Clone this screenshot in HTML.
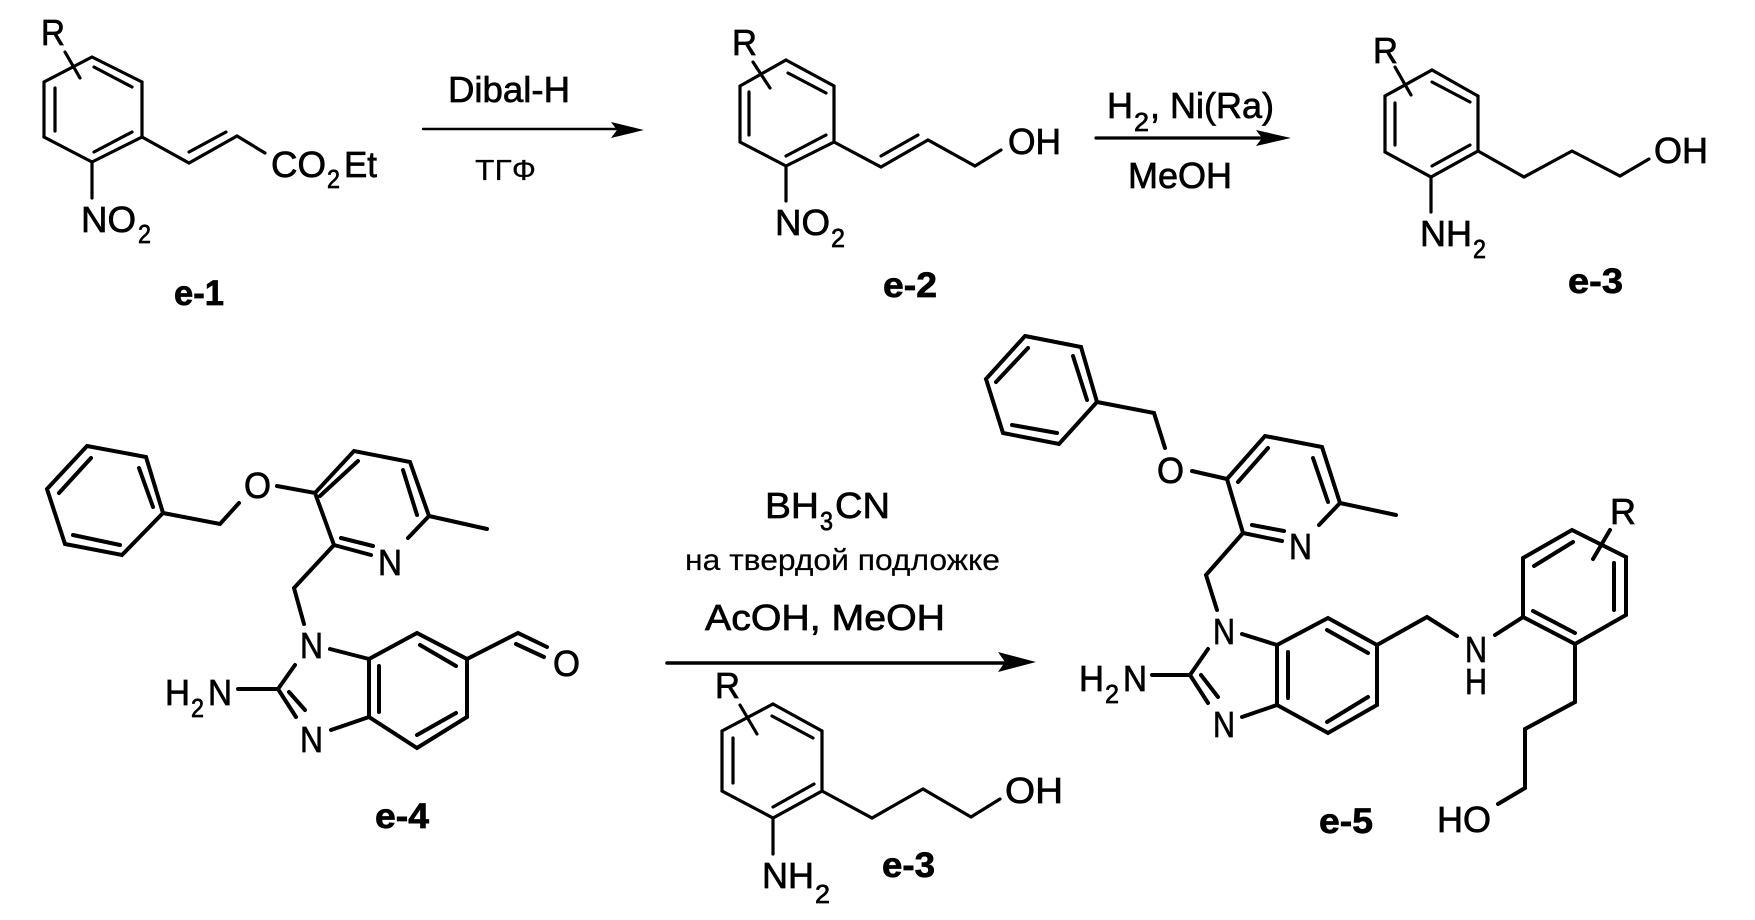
<!DOCTYPE html>
<html><head><meta charset="utf-8"><style>
html,body{margin:0;padding:0;background:#fff;width:1755px;height:920px;overflow:hidden}
svg{display:block}
text{font-family:"Liberation Sans","DejaVu Sans",sans-serif;fill:#000;stroke:#000;stroke-width:.7}
.a{font-size:36px}.s{font-size:26px}.b{font-size:35px;font-weight:bold}
path{fill:none;stroke:#000;stroke-linejoin:miter;stroke-linecap:round}
.t{stroke-width:3.2}.k{stroke-width:4}
</style></head><body>
<svg width="1755" height="920" viewBox="0 0 1755 920" xmlns="http://www.w3.org/2000/svg">
<!-- e-1 -->
<path class="t" d="M92 57L142 82V137L92 162L44 137V82ZM65 52L80 78M94 67L132 87M55 88V131M94 152L132 132M142 137L189 163L237 136L265 153M189 152L226 132M92 162V198"/>
<text class="a" x="41" y="45" textLength="24" lengthAdjust="spacingAndGlyphs">R</text>
<text class="a" x="271" y="177" textLength="55" lengthAdjust="spacingAndGlyphs">CO</text>
<text class="s" x="327" y="188" textLength="13" lengthAdjust="spacingAndGlyphs">2</text>
<text class="a" x="344" y="177" textLength="33" lengthAdjust="spacingAndGlyphs">Et</text>
<text class="a" x="81" y="232" textLength="55" lengthAdjust="spacingAndGlyphs">NO</text>
<text class="s" x="138" y="243" textLength="13" lengthAdjust="spacingAndGlyphs">2</text>
<text class="b" x="174" y="305" textLength="50" lengthAdjust="spacingAndGlyphs">e-1</text>
<!-- arrow 1 -->
<text class="a" x="448" y="102" textLength="122" lengthAdjust="spacingAndGlyphs">Dibal-H</text>
<path style="stroke-width:2.4" d="M423 129H625"/>
<polygon points="611,122 644,130 611,138 617,130" fill="#000"/>
<text x="475" y="180" font-size="29" textLength="61" lengthAdjust="spacingAndGlyphs" style="stroke-width:.2">ТГФ</text>
<!-- e-2 -->
<path class="t" d="M786 60L834 86V142L786 166L740 142V86ZM753 62L770 88M788 73L826 93M749 92V135M786 156L826 135M834 142L881 167L928 140L975 166L1001 150M881 156L918 135M786 166V201"/>
<text class="a" x="732" y="55" textLength="25" lengthAdjust="spacingAndGlyphs">R</text>
<text class="a" x="1008" y="154" textLength="53" lengthAdjust="spacingAndGlyphs">OH</text>
<text class="a" x="775" y="235" textLength="55" lengthAdjust="spacingAndGlyphs">NO</text>
<text class="s" x="831" y="247" textLength="14" lengthAdjust="spacingAndGlyphs">2</text>
<text class="b" x="883" y="297" textLength="54" lengthAdjust="spacingAndGlyphs">e-2</text>
<!-- arrow 2 -->
<text class="a" x="1107" y="118" textLength="26" lengthAdjust="spacingAndGlyphs">H</text>
<text class="s" x="1134" y="131" textLength="15" lengthAdjust="spacingAndGlyphs">2</text>
<text class="a" x="1150" y="118">,</text>
<text class="a" x="1170" y="118" textLength="104" lengthAdjust="spacingAndGlyphs">Ni(Ra)</text>
<path style="stroke-width:3.2" d="M1096 138H1270"/>
<polygon points="1256,130 1291,138 1256,146 1262,138" fill="#000"/>
<text class="a" x="1128" y="188" textLength="104" lengthAdjust="spacingAndGlyphs">MeOH</text>
<!-- e-3 top -->
<path class="t" d="M1432 70L1478 96V151L1431 177L1385 152V96ZM1395 67L1411 95M1432 82L1470 102M1395 103V145M1432 166L1470 145M1478 151L1524 177L1572 151L1620 176L1649 159M1431 177V212"/>
<text class="a" x="1373" y="63" textLength="25" lengthAdjust="spacingAndGlyphs">R</text>
<text class="a" x="1654" y="163" textLength="54" lengthAdjust="spacingAndGlyphs">OH</text>
<text class="a" x="1420" y="246" textLength="52" lengthAdjust="spacingAndGlyphs">NH</text>
<text class="s" x="1473" y="258" textLength="13" lengthAdjust="spacingAndGlyphs">2</text>
<text class="b" x="1568" y="293" textLength="55" lengthAdjust="spacingAndGlyphs">e-3</text>
<!-- e-4 -->
<path class="k" d="M87 446L146 457L163 513L122 555L65 544L47 489ZM139 468L153 507M120 545L73 535M59 493L91 458M163 513L220 524L239 503M277 486L315 493L354 451L410 462L429 516M320 496L358 461M403 470L417 515M429 516L408 538M315 493L334 545L371 555M341 538L373 546M429 516L487 529M334 545L294 588L304 624M330 649L369 659M369 659L417 633L467 659V717L417 748L369 717ZM420 645L456 666M379 666V712M417 735L456 713M467 659L518 633L547 647M516 644L544 657M238 689H278L295 665M278 689L296 717M289 692L305 710M331 730L369 717"/>
<text class="a" x="244" y="498" textLength="27" lengthAdjust="spacingAndGlyphs">O</text>
<text class="a" x="378" y="575" textLength="24" lengthAdjust="spacingAndGlyphs">N</text>
<text class="a" x="300" y="658" textLength="23" lengthAdjust="spacingAndGlyphs">N</text>
<text class="a" x="300" y="752" textLength="23" lengthAdjust="spacingAndGlyphs">N</text>
<text class="a" x="553" y="676" textLength="27" lengthAdjust="spacingAndGlyphs">O</text>
<text class="a" x="165" y="705" textLength="25" lengthAdjust="spacingAndGlyphs">H</text>
<text class="s" x="191" y="717" textLength="13" lengthAdjust="spacingAndGlyphs">2</text>
<text class="a" x="208" y="705" textLength="24" lengthAdjust="spacingAndGlyphs">N</text>
<text class="b" x="375" y="828" textLength="54" lengthAdjust="spacingAndGlyphs">e-4</text>
<!-- arrow 3 -->
<text class="a" x="765" y="518" textLength="54" lengthAdjust="spacingAndGlyphs">BH</text>
<text class="s" x="820" y="530" textLength="13" lengthAdjust="spacingAndGlyphs">3</text>
<text class="a" x="835" y="518" textLength="55" lengthAdjust="spacingAndGlyphs">CN</text>
<text x="685" y="570" font-size="30" textLength="315" lengthAdjust="spacingAndGlyphs" style="stroke-width:.2">на твердой подложке</text>
<text class="a" x="705" y="630" textLength="240" lengthAdjust="spacingAndGlyphs">AcOH, MeOH</text>
<path style="stroke-width:3.6" d="M667 663H1015"/>
<polygon points="998,652 1036,662 998,672 1005,662" fill="#000"/>
<!-- e-3 inset -->
<path class="t" d="M773 704L822 731V791L773 818L722 791V731ZM740 705L757 734M772 716L813 738M733 738V783M773 807L814 784M822 791L872 818L923 789L971 817L1000 799M773 818V854"/>
<text class="a" x="715" y="698" textLength="25" lengthAdjust="spacingAndGlyphs">R</text>
<text class="a" x="1005" y="803" textLength="58" lengthAdjust="spacingAndGlyphs">OH</text>
<text class="a" x="762" y="888" textLength="52" lengthAdjust="spacingAndGlyphs">NH</text>
<text class="s" x="815" y="903" textLength="15" lengthAdjust="spacingAndGlyphs">2</text>
<text class="b" x="882" y="877" textLength="53" lengthAdjust="spacingAndGlyphs">e-3</text>
<!-- e-5 -->
<path class="k" d="M1025 336L1081 347L1097 402L1059 444L1003 433L986 379ZM1073 356L1087 400M1012 425L1057 433M996 382L1028 348M1097 402L1154 413L1165 448M1192 471L1227 479L1265 436L1322 447L1340 503M1238 482L1268 448M1313 458L1328 502M1340 503L1319 525M1227 479L1243 533L1282 541M1252 525L1284 531M1340 503L1396 515M1243 533L1206 575L1217 610M1242 634L1277 645M1277 645L1328 618L1377 645V705L1328 733L1277 705ZM1327 630L1368 653M1288 652V698M1327 722L1368 697M1152 675H1190L1208 649M1190 675L1208 703M1201 675L1218 697M1242 717L1277 705M1377 645L1427 617L1457 636M1495 635L1523 617V558L1572 530L1626 557V615L1575 644L1523 617M1534 566L1573 542M1614 563V610M1533 611L1575 633M1610 530L1593 559M1575 644V702L1525 729V788L1498 804"/>
<text class="a" x="1157" y="483" textLength="27" lengthAdjust="spacingAndGlyphs">O</text>
<text class="a" x="1289" y="559" textLength="23" lengthAdjust="spacingAndGlyphs">N</text>
<text class="a" x="1213" y="644" textLength="22" lengthAdjust="spacingAndGlyphs">N</text>
<text class="a" x="1213" y="737" textLength="22" lengthAdjust="spacingAndGlyphs">N</text>
<text class="a" x="1079" y="691" textLength="25" lengthAdjust="spacingAndGlyphs">H</text>
<text class="s" x="1105" y="703" textLength="14" lengthAdjust="spacingAndGlyphs">2</text>
<text class="a" x="1123" y="691" textLength="24" lengthAdjust="spacingAndGlyphs">N</text>
<text class="a" x="1465" y="662" textLength="22" lengthAdjust="spacingAndGlyphs">N</text>
<text class="a" x="1465" y="694" textLength="22" lengthAdjust="spacingAndGlyphs">H</text>
<text class="a" x="1610" y="524" textLength="26" lengthAdjust="spacingAndGlyphs">R</text>
<text class="a" x="1437" y="832" textLength="54" lengthAdjust="spacingAndGlyphs">HO</text>
<text class="b" x="1319" y="833" textLength="54" lengthAdjust="spacingAndGlyphs">e-5</text>
</svg>
</body></html>
